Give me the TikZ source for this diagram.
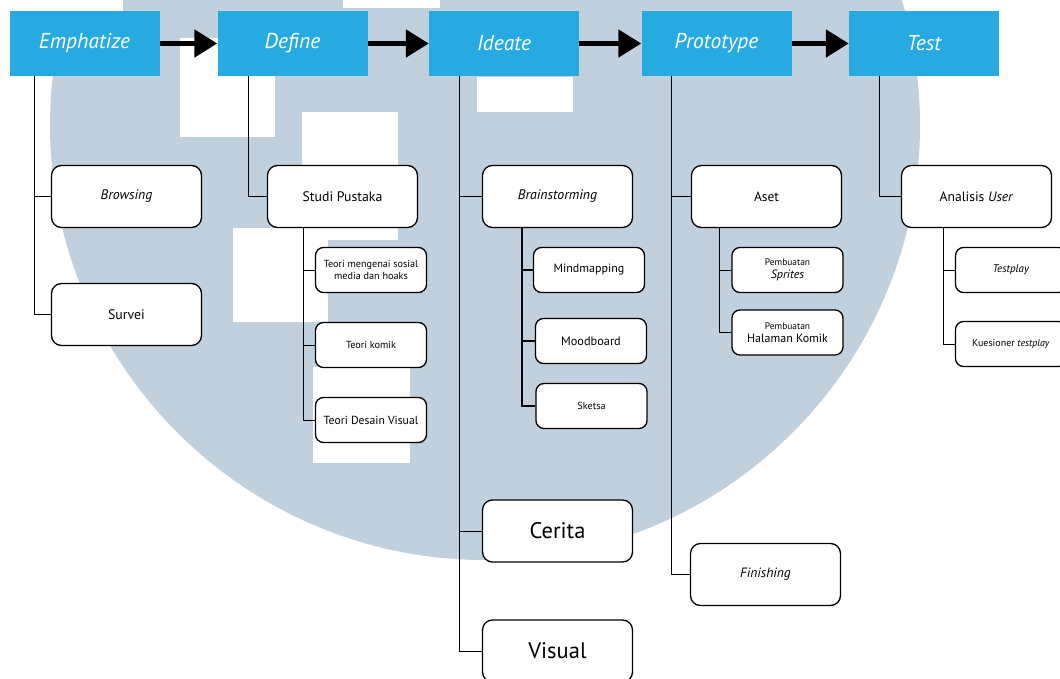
\documentclass[tikz,border=0pt]{standalone}
\usepackage{fontspec}
\setmainfont{PT Sans}
\usetikzlibrary{arrows.meta,positioning}
\definecolor{phaseblue}{HTML}{27AAE1}
\definecolor{wmark}{HTML}{C1D0DD}
\tikzset{
    phase/.style = {fill=phaseblue, text=white, inner sep=0pt,
        minimum width=150pt, minimum height=65pt,
        font=\fontsize{21.5}{24}\selectfont\itshape},
    block/.style = {draw, rounded corners=10pt, line width=1.3pt, fill=white,
        minimum width=150pt, minimum height=62pt, align=center,
        font=\fontsize{13.8}{16}\selectfont},
    subblock/.style = {draw, rounded corners=8pt, line width=1.3pt, fill=white,
        minimum width=111pt, minimum height=45pt, align=center, inner sep=2pt,
        font=\fontsize{10.2}{12.5}\selectfont},
    arrow/.style = {draw, line width=5pt, -{Triangle[length=23pt,width=27pt]}},
    link/.style = {draw, line width=1pt}
}

\begin{document}
\begin{tikzpicture}[x=1pt, y=-1pt]
    \useasboundingbox (0,0) rectangle (1060,679);
    \fill[white] (0,0) rectangle (1060,679);
    % watermark
    \begin{scope}
        \clip (0,0) rectangle (1060,679);
        \fill[wmark] (485,125) circle[radius=435pt];
        \fill[white] (0,0) rectangle (123,11);
        \fill[white] (343,0) rectangle (440,8);
        \fill[white] (180,38) rectangle (275,137);
        \fill[white] (302,112) rectangle (398,240);
        \fill[white] (233,228) rectangle (328,322);
        \fill[white] (313,367) rectangle (410,463);
        \fill[white] (477,77) rectangle (573,112);
    \end{scope}

    % phases
    \foreach \name/\x/\txt in {emph/84.5/Emphatize, def/292.5/Define, ide/504/Ideate,
                               proto/716.5/Prototype, test/924/Test}{
        \node [phase] (\name) at (\x,43.5) {\txt};
    }
    \foreach \a/\b in {emph/def, def/ide, ide/proto, proto/test}{
        \draw [arrow] (\a) -- (\b);
    }

    % Emphatize
    \node [block] (browsing) at (126.5,196.5) {\textit{Browsing}};
    \node [block] (survei) at (126.5,314.5) {Survei};
    \draw [link] ([xshift=-50.5pt]emph.south) |- (browsing.west);
    \draw [link] ([xshift=-50.5pt]emph.south) |- (survei.west);

    % Define
    \node [block] (studi) at (342.5,196.5) {Studi Pustaka};
    \draw [link] ([xshift=-44.5pt]def.south) |- (studi.west);
    \node [subblock] (teorisos) at (371,270) {Teori mengenai sosial\\media dan hoaks};
    \node [subblock] (teorikomik) at (371,345) {Teori komik};
    \node [subblock, font=\fontsize{11.7}{13}\selectfont] (teoridesain) at (371,420) {Teori Desain Visual};
    \foreach \c in {teorisos, teorikomik, teoridesain}{
        \draw [link] ([xshift=-39.5pt]studi.south) |- (\c.west);
    }

    % Ideate
    \node [block] (brain) at (557.5,196.5) {\textit{Brainstorming}};
    \node [block, font=\fontsize{22.5}{25}\selectfont] (cerita) at (557.5,531) {Cerita};
    \node [block, font=\fontsize{22.5}{25}\selectfont] (visual) at (557.5,651) {Visual};
    \foreach \c in {brain, cerita, visual}{
        \draw [link] ([xshift=-45pt]ide.south) |- (\c.west);
    }
    \node [subblock, font=\fontsize{12}{14}\selectfont] (mind) at (589,270) {Mindmapping};
    \node [subblock, font=\fontsize{12.3}{14}\selectfont] (mood) at (591,341) {Moodboard};
    \node [subblock] (sketsa) at (591.5,406) {Sketsa};
    \foreach \c in {mind, mood, sketsa}{
        \draw [link, line width=1.8pt] ([xshift=-35.5pt]brain.south) |- (\c.west);
    }

    % Prototype
    \node [block, font=\fontsize{13.5}{16}\selectfont] (aset) at (766.5,196.5) {Aset};
    \node [block, font=\fontsize{13.5}{16}\selectfont] (finishing) at (765.5,574.5) {\textit{Finishing}};
    \draw [link] ([xshift=-45.5pt]proto.south) |- (aset.west);
    \draw [link] ([xshift=-45.5pt]proto.south) |- (finishing.west);
    \node [subblock, font=\fontsize{9.4}{13}\selectfont] (sprites) at (787.5,270) {Pembuatan\\{\fontsize{12}{14}\selectfont\itshape Sprites}};
    \node [subblock, font=\fontsize{9.4}{13}\selectfont] (halaman) at (787.5,332.5) {Pembuatan\\{\fontsize{12}{14}\selectfont Halaman Komik}};
    \foreach \c in {sprites, halaman}{
        \draw [link] ([xshift=-47.5pt]aset.south) |- (\c.west);
    }

    % Test
    \node [block, font=\fontsize{13.6}{16}\selectfont] (analisis) at (976.5,196.5) {Analisis \textit{User}};
    \draw [link] ([xshift=-45pt]test.south) |- (analisis.west);
    \node [subblock, font=\fontsize{11}{13}\selectfont] (testplay) at (1011,270) {\textit{Testplay}};
    \node [subblock, font=\fontsize{10}{12}\selectfont] (kuesioner) at (1011,344) {Kuesioner \textit{testplay}};
    \foreach \c in {testplay, kuesioner}{
        \draw [link] ([xshift=-33.5pt]analisis.south) |- (\c.west);
    }
\end{tikzpicture}
\end{document}
